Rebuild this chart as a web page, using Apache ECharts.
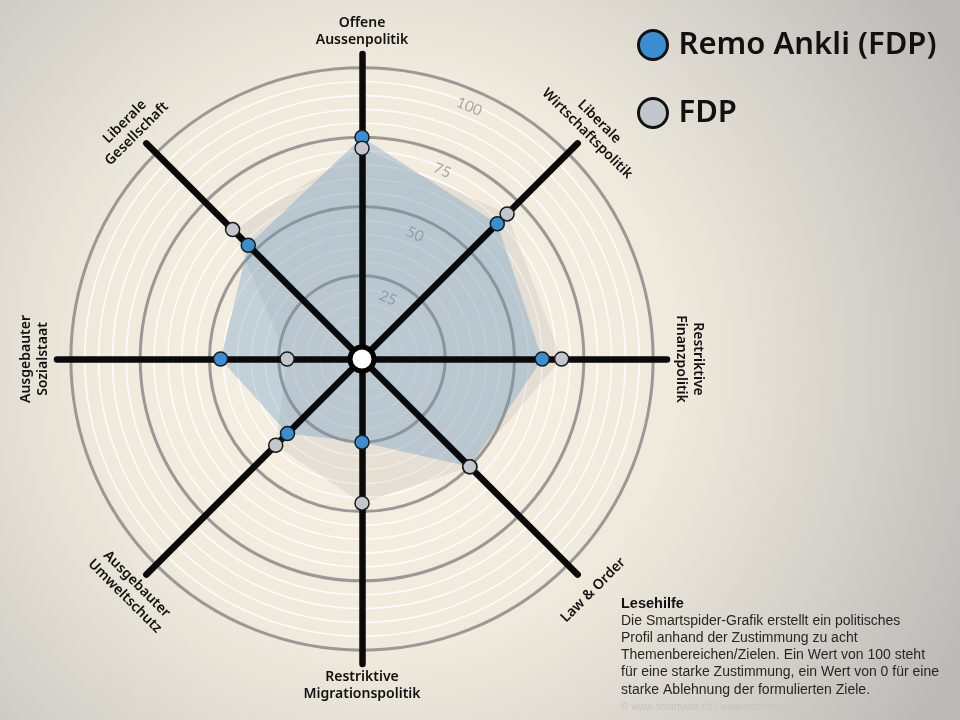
<!DOCTYPE html>
<html>
<head>
<meta charset="utf-8">
<script src="https://cdn.jsdelivr.net/npm/echarts@6/dist/echarts.min.js"></script>
<style>
  html, body { margin: 0; padding: 0; }
  #chart { width: 960px; height: 720px; }
</style>
</head>
<body>
<div id="chart"></div>
<script>
/* axes of the spider, radar order (counter-clockwise from the top) */
var axisNames = [
  'Offene\nAussenpolitik',
  'Liberale\nGesellschaft',
  'Ausgebauter\nSozialstaat',
  'Ausgebauter\nUmweltschutz',
  'Restriktive\nMigrationspolitik',
  'Law & Order',
  'Restriktive\nFinanzpolitik',
  'Liberale\nWirtschaftspolitik'
];
var remoValues = [75, 53, 46, 33, 25, 50, 60, 64];
var fdpValues  = [71, 61, 22, 39, 47, 50, 67, 69];
var seriesNames = ['Remo Ankli (FDP)', 'FDP'];
var ringLabels = [25, 50, 75, 100];

var noteTitle = 'Lesehilfe';
var noteLines = [
  'Die Smartspider-Grafik erstellt ein politisches',
  'Profil anhand der Zustimmung zu acht',
  'Themenbereichen/Zielen. Ein Wert von 100 steht',
  'für eine starke Zustimmung, ein Wert von 0 für eine',
  'starke Ablehnung der formulierten Ziele.'
];
var sourceText = '\u00A9 www.smartvote.ch / www.sotomo.ch';

var CX = 362, CY = 359, R = 305;
var MIN = -5, MAX = 105, STEP = 5;

function rad(v) { return (v - MIN) / (MAX - MIN) * R; }
function pt(r, deg) {
  var a = deg * Math.PI / 180;
  return [CX + r * Math.sin(a), CY - r * Math.cos(a)];
}

/* ring colours, one per tick (every 5) */
var ticks = [];
for (var v = MIN; v <= MAX; v += STEP) ticks.push(v);
var thickColors = ticks.map(function (t) {
  return (t > 0 && t <= 100 && t % 25 === 0) ? '#9a9996' : 'transparent';
});
var thinColors = ticks.map(function (t) {
  return (t > 0 && t < 100 && t % 25 !== 0) ? 'rgba(255,255,255,0.85)' : 'transparent';
});

function radarBase(z) {
  return {
    center: [CX, CY],
    radius: R,
    startAngle: 90,
    shape: 'circle',
    splitNumber: (MAX - MIN) / STEP,
    z: z,
    indicator: axisNames.map(function (n) { return { name: n, min: MIN, max: MAX }; }),
    axisName: { show: false },
    axisLabel: { show: false },
    axisTick: { show: false },
    splitArea: { show: false },
    splitLine: { show: false },
    axisLine: { show: false }
  };
}

var rThin = radarBase(0);
rThin.splitLine = { show: true, lineStyle: { color: thinColors, width: 1.6 } };
var rThick = radarBase(1);
rThick.splitLine = { show: true, lineStyle: { color: thickColors, width: 3 } };
var rAxes = radarBase(3);
rAxes.axisLine = { show: true, lineStyle: { color: '#0a0a0a', width: 6.5, cap: 'round' } };

/* graphic texts */
var graphics = [];

ringLabels.forEach(function (v) {
  var p = pt(rad(v) - 17, 23);
  graphics.push({
    type: 'text', x: p[0], y: p[1], rotation: -23 * Math.PI / 180, z: 1,
    style: { text: String(v), fill: '#a8a7a4', font: '15px Lato', align: 'center', verticalAlign: 'middle' }
  });
});

axisNames.forEach(function (name, i) {
  var deg = (360 - i * 45) % 360;
  var rot = deg <= 90 ? -deg : (deg < 270 ? 180 - deg : 360 - deg);
  var p = pt(327, deg);
  graphics.push({
    type: 'text', x: p[0], y: p[1], rotation: rot * Math.PI / 180, z: 6,
    style: { text: name, fill: '#111', font: '600 14px "Noto Sans"', lineHeight: 17, align: 'center', verticalAlign: 'middle' }
  });
});

graphics.push({
  type: 'circle', z: 10,
  shape: { cx: CX, cy: CY, r: 12 },
  style: { fill: '#ffffff', stroke: '#000', lineWidth: 5 }
});

graphics.push({
  type: 'text', left: 621, top: 596, z: 6,
  style: { text: noteTitle, fill: '#111', font: 'bold 14.5px "Liberation Sans"' }
});
graphics.push({
  type: 'text', left: 621, top: 612, z: 6,
  style: { text: noteLines.join('\n'), fill: '#262626', font: '14px "Liberation Sans"', lineHeight: 17.3 }
});
graphics.push({
  type: 'text', left: 621, top: 702, z: 6,
  style: { text: sourceText, fill: '#c4c3c0', font: '10px "Liberation Sans"' }
});

var chart = echarts.init(document.getElementById('chart'));

var option = {
  backgroundColor: {
    type: 'radial', x: 0.4, y: 0.5, r: 0.9,
    colorStops: [
      { offset: 0, color: '#f8f1e4' },
      { offset: 0.45, color: '#f0eadd' },
      { offset: 0.75, color: '#d4d1ca' },
      { offset: 1, color: '#bbbab7' }
    ]
  },
  animation: false,
  radar: [rThin, rThick, rAxes],
  legend: {
    orient: 'vertical',
    left: 632,
    top: 24,
    itemWidth: 29,
    itemHeight: 29,
    itemGap: 36,
    selectedMode: false,
    textStyle: { fontFamily: 'Noto Sans', fontSize: 31, fontWeight: 600, color: '#111', padding: [0, 0, 0, 6] },
    data: [
      { name: seriesNames[0], icon: 'circle', itemStyle: { color: '#3b8fd0', borderColor: '#111', borderWidth: 3 } },
      { name: seriesNames[1], icon: 'circle', itemStyle: { color: '#c3c6cc', borderColor: '#111', borderWidth: 3 } }
    ]
  },
  graphic: graphics,
  series: [
    {
      type: 'radar', radarIndex: 0, z: 2, silent: true, symbol: 'none',
      lineStyle: { width: 0, opacity: 0 },
      data: [{ name: seriesNames[1], value: fdpValues, areaStyle: { color: 'rgba(150,145,135,0.22)' } }]
    },
    {
      type: 'radar', radarIndex: 0, z: 2, silent: true, symbol: 'none',
      lineStyle: { width: 0, opacity: 0 },
      data: [{ name: seriesNames[0], value: remoValues, areaStyle: { color: 'rgba(95,150,195,0.48)' } }]
    },
    {
      type: 'radar', radarIndex: 0, z: 4, silent: true, symbol: 'circle', symbolSize: 14,
      lineStyle: { width: 0, opacity: 0 },
      data: [{ name: seriesNames[0], value: remoValues,
               itemStyle: { color: '#3b8fd0', borderColor: '#1a1a1a', borderWidth: 1.5 } }]
    },
    {
      type: 'radar', radarIndex: 0, z: 4, silent: true, symbol: 'circle', symbolSize: 14,
      lineStyle: { width: 0, opacity: 0 },
      data: [{ name: seriesNames[1], value: fdpValues,
               itemStyle: { color: '#c3c6cc', borderColor: '#1a1a1a', borderWidth: 1.5 } }]
    }
  ]
};
chart.setOption(option);
</script>
</body>
</html>
